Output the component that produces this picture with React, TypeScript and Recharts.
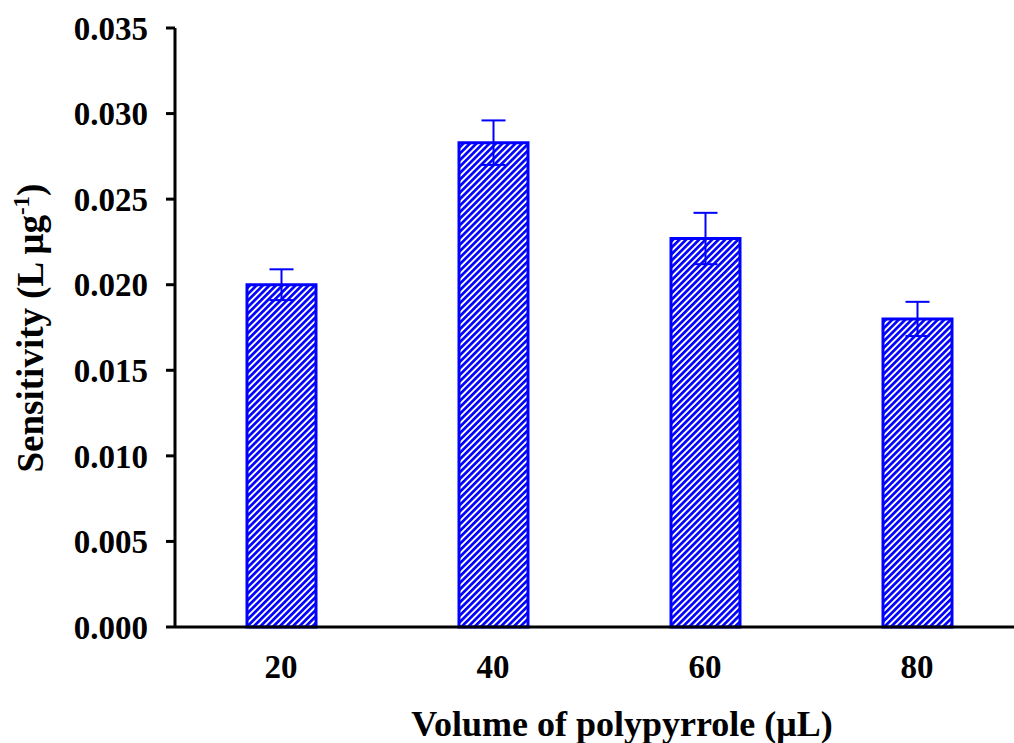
import React from 'react';
import { BarChart, Bar, XAxis, YAxis, ErrorBar, Label } from 'recharts';

// Sensitivity vs. volume of polypyrrole, mean ± SD
const volumes = ['20', '40', '60', '80'];
const sensitivity = [0.02, 0.0283, 0.0227, 0.018];
const sensitivityErr = [0.0009, 0.0013, 0.0015, 0.001];
const yTicks = [0, 0.005, 0.01, 0.015, 0.02, 0.025, 0.03, 0.035];

const data = volumes.map((v, i) => ({
  volume: v,
  value: sensitivity[i],
  err: sensitivityErr[i],
}));

const FONT = '"Liberation Serif", "Times New Roman", serif';
const BLUE = '#0000FF';

const YTitle = () => (
  <text
    x={43}
    y={328}
    transform="rotate(-90, 43, 328)"
    textAnchor="middle"
    fontFamily={FONT}
    fontWeight="bold"
    fontSize={37}
    fill="#000"
  >
    Sensitivity (L μg
    <tspan dy={-14} fontSize={23}>-1</tspan>
    <tspan dy={14}>)</tspan>
  </text>
);

const XTitle = () => (
  <text
    x={622}
    y={736}
    textAnchor="middle"
    fontFamily={FONT}
    fontWeight="bold"
    fontSize={36}
    fill="#000"
  >
    Volume of polypyrrole (μL)
  </text>
);

export default function App() {
  const tickStyle = { fontFamily: FONT, fontWeight: 'bold', fontSize: 33, fill: '#000' };
  return (
    <div
      style={{
        position: 'absolute',
        left: 0,
        top: 0,
        width: 1014,
        height: 743,
        overflow: 'hidden',
        background: '#fff',
      }}
    >
      {/* diagonal hatch used by the bars */}
      <svg width={0} height={0} style={{ position: 'absolute' }}>
        <defs>
          <pattern
            id="hatch"
            patternUnits="userSpaceOnUse"
            width={4.6}
            height={4.6}
            patternTransform="rotate(45)"
          >
            <rect x={0} y={0} width={4.6} height={4.6} fill="#fff" />
            <rect x={0} y={0} width={2.7} height={4.6} fill={BLUE} />
          </pattern>
        </defs>
      </svg>
      <BarChart
        width={1040}
        height={743}
        data={data}
        margin={{ top: 28, right: 17, bottom: 0, left: 0 }}
        barSize={69}
      >
        <XAxis
          dataKey="volume"
          height={116}
          axisLine={{ stroke: '#000', strokeWidth: 3 }}
          tickLine={false}
          tickSize={0}
          tickMargin={28}
          tick={tickStyle}
        >
          <Label content={<XTitle />} />
        </XAxis>
        <YAxis
          width={175}
          domain={[0, 0.035]}
          ticks={yTicks}
          tickFormatter={(v: number) => v.toFixed(3)}
          axisLine={{ stroke: '#000', strokeWidth: 3 }}
          tickLine={{ stroke: '#000', strokeWidth: 3 }}
          tickSize={9}
          tickMargin={18}
          tick={tickStyle}
        >
          <Label content={<YTitle />} />
        </YAxis>
        <Bar
          dataKey="value"
          fill="url(#hatch)"
          stroke={BLUE}
          strokeWidth={3}
          isAnimationActive={false}
        >
          <ErrorBar dataKey="err" width={12} stroke={BLUE} strokeWidth={2} direction="y" />
        </Bar>
      </BarChart>
    </div>
  );
}
